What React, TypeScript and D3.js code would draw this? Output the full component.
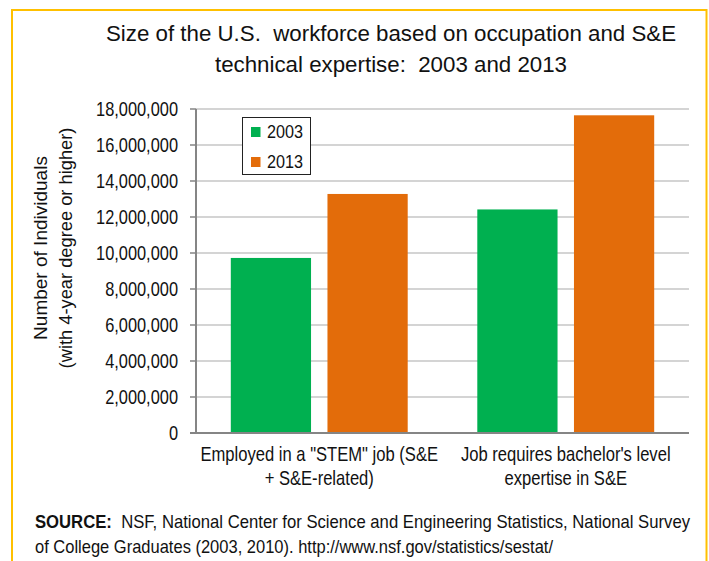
import * as d3 from "d3";

// chart data
const categories = ['Employed in a "STEM" job (S&E + S&E-related)', "Job requires bachelor's level expertise in S&E"];
const categoryLines = [
  ['Employed in a "STEM" job (S&E', "+ S&E-related)"],
  ["Job requires bachelor's level", "expertise in S&E"],
];
const years = ["2003", "2013"];
const values2003 = [9725000, 12420000];
const values2013 = [13280000, 17650000];
const yTicks = [0, 2000000, 4000000, 6000000, 8000000, 10000000, 12000000, 14000000, 16000000, 18000000];

const colors: Record<string, string> = { "2003": "#00B050", "2013": "#E36C0A" };
const font = "'Liberation Sans', Arial, sans-serif";
// no narrow font installed, so squeeze the regular one
const NARROW = 0.82;

export default function App() {
  const W = 709, H = 561;
  const left = 196, right = 689, top = 109, bottom = 433;

  const x0 = d3.scaleBand<string>().domain(categories).range([left, right]);
  const x1 = d3.scaleBand<string>().domain(years).range([0, x0.bandwidth()]).paddingInner(0.17).paddingOuter(0.36);
  const y = d3.scaleLinear().domain([0, 18000000]).range([bottom, top]);
  const fmt = d3.format(",");

  const rows = categories.map((c, i) => ({ c, vals: [{ k: "2003", v: values2003[i] }, { k: "2013", v: values2013[i] }] }));

  return (
    <svg width={W} height={H} style={{ position: "absolute", left: 0, top: 0, background: "#fff" }}>
      <rect x={0} y={0} width={W} height={H} fill="#fff" />
      {/* frame */}
      <rect x={12} y={10} width={694.5} height={600} fill="none" stroke="#FFC000" strokeWidth={2} />

      {/* title */}
      <text x={391} y={41} textAnchor="middle" fontFamily={font} fontSize={22.3} fill="#111" style={{ whiteSpace: "pre" }}>
        {"Size of the U.S.  workforce based on occupation and S&E"}
      </text>
      <text x={391} y={71.5} textAnchor="middle" fontFamily={font} fontSize={22.3} fill="#111" style={{ whiteSpace: "pre" }}>
        {"technical expertise:  2003 and 2013"}
      </text>

      {/* gridlines */}
      {yTicks.map((t) => (
        <line key={"g" + t} x1={left} x2={right} y1={y(t)} y2={y(t)} stroke="#c6c6c6" strokeWidth={1.5} />
      ))}

      {/* bars */}
      {rows.map((r) => (
        <g key={r.c} transform={`translate(${x0(r.c)},0)`}>
          {r.vals.map((d) => (
            <rect key={d.k} x={x1(d.k)} y={y(d.v)} width={x1.bandwidth()} height={y(0) - y(d.v)} fill={colors[d.k]} />
          ))}
        </g>
      ))}

      {/* y axis */}
      <line x1={left} x2={left} y1={top} y2={bottom} stroke="#858585" strokeWidth={2} />
      <line x1={left - 6} x2={right} y1={bottom} y2={bottom} stroke="#858585" strokeWidth={2} />
      {yTicks.map((t) => (
        <g key={"t" + t}>
          <line x1={left - 6} x2={left} y1={y(t)} y2={y(t)} stroke="#858585" strokeWidth={1.5} />
          <g transform={`translate(178,${y(t)}) scale(${NARROW},1)`}>
            <text dy="0.36em" textAnchor="end" fontFamily={font} fontSize={20} fill="#111">
              {fmt(t)}
            </text>
          </g>
        </g>
      ))}

      {/* y axis title */}
      <g transform="translate(46.5,248) rotate(-90)">
        <text x={0} y={0} textAnchor="middle" fontFamily={font} fontSize={19} fill="#111">
          Number of Individuals
        </text>
        <text x={0} y={25} textAnchor="middle" fontFamily={font} fontSize={18.3} fill="#111">
          (with 4-year degree or higher)
        </text>
      </g>

      {/* category labels */}
      {categories.map((c, i) =>
        categoryLines[i].map((ln, j) => (
          <g key={c + j} transform={`translate(${x0(c)! + x0.bandwidth() / 2},${461 + j * 23.5}) scale(0.83,1)`}>
            <text textAnchor="middle" fontFamily={font} fontSize={20} fill="#111">
              {ln}
            </text>
          </g>
        ))
      )}

      {/* legend */}
      <rect x={242.5} y={117.5} width={68} height={57} fill="#fff" stroke="#222" strokeWidth={1} />
      {years.map((k, i) => (
        <g key={k} transform={`translate(251,${127 + i * 30})`}>
          <rect x={0} y={0} width={9.5} height={10} fill={colors[k]} />
          <g transform="translate(16,10.5) scale(0.9,1)">
            <text fontFamily={font} fontSize={18} fill="#111">
              {k}
            </text>
          </g>
        </g>
      ))}

      {/* source */}
      <g transform="translate(35,528) scale(1,1.2)">
        <text fontFamily={font} fontSize={15} fill="#111" textLength={655} lengthAdjust="spacingAndGlyphs" style={{ whiteSpace: "pre" }}>
          <tspan fontWeight="bold">SOURCE:</tspan>
          {"  NSF, National Center for Science and Engineering Statistics, National Survey"}
        </text>
      </g>
      <g transform="translate(35,553) scale(1,1.2)">
        <text fontFamily={font} fontSize={15} fill="#111" textLength={518} lengthAdjust="spacingAndGlyphs">
          of College Graduates (2003, 2010). http://www.nsf.gov/statistics/sestat/
        </text>
      </g>
    </svg>
  );
}
